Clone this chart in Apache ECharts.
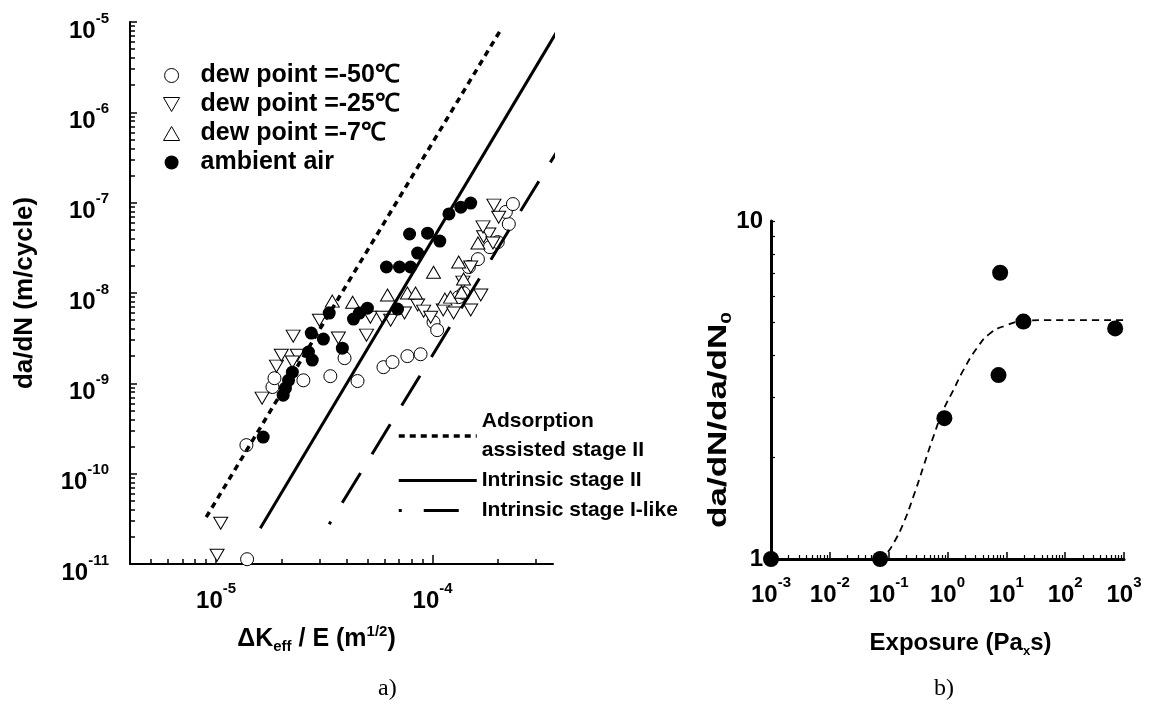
<!DOCTYPE html>
<html>
<head>
<meta charset="utf-8">
<title>da/dN vs dK_eff/E and exposure</title>
<script src="https://cdn.jsdelivr.net/npm/echarts@6/dist/echarts.min.js"></script>
<style>
html,body{margin:0;padding:0;background:#fff;}
#main{width:1152px;height:708px;}
</style>
</head>
<body>
<div id="main"></div>
<script>
/* chart a) : da/dN vs dK_eff/E, [dK/E (m^1/2), da/dN (m/cycle)] */
var dewPoint50 = [
  [1.39e-5, 1.13e-11], [1.38e-5, 2.07e-10], [1.82e-5, 9.1e-10], [1.86e-5, 1.14e-9],
  [2.53e-5, 1.08e-9], [3.37e-5, 1.2e-9], [4.50e-5, 1.06e-9], [3.92e-5, 1.9e-9],
  [5.93e-5, 1.51e-9], [6.53e-5, 1.72e-9], [7.65e-5, 2.0e-9], [8.80e-5, 2.1e-9],
  [1.01e-4, 4.76e-9], [1.05e-4, 3.88e-9], [1.32e-4, 9.0e-9], [1.39e-4, 9.98e-9],
  [1.47e-4, 1.94e-8], [1.62e-4, 2.37e-8], [1.84e-4, 3.22e-8], [2.00e-4, 3.66e-8],
  [2.25e-4, 5.8e-8], [2.18e-4, 7.9e-8], [2.35e-4, 9.65e-8]
];
var dewPoint25 = [
  [1.01e-5, 1.25e-11], [1.05e-5, 2.83e-11], [1.63e-5, 6.86e-10], [1.90e-5, 1.55e-9],
  [2.00e-5, 2.05e-9], [2.37e-5, 2.05e-9], [2.25e-5, 1.72e-9], [2.27e-5, 3.33e-9],
  [3.00e-5, 5.0e-9], [3.67e-5, 3.17e-9], [4.95e-5, 3.42e-9], [5.16e-5, 5.4e-9],
  [5.87e-5, 5.4e-9], [6.40e-5, 5.0e-9], [7.42e-5, 6.0e-9], [8.53e-5, 7.35e-9],
  [9.09e-5, 6.3e-9], [9.80e-5, 5.4e-9], [1.12e-4, 6.47e-9], [1.25e-4, 6.0e-9],
  [1.50e-4, 6.47e-9], [1.67e-4, 9.5e-9], [1.38e-4, 1.32e-8], [1.50e-4, 1.94e-8],
  [1.72e-4, 4.2e-8], [1.82e-4, 4.5e-8], [1.71e-4, 5.4e-8], [1.90e-4, 3.57e-8],
  [2.02e-4, 6.9e-8], [1.92e-4, 9.4e-8]
];
var dewPoint7 = [
  [3.44e-5, 8.13e-9], [4.27e-5, 7.9e-9], [6.19e-5, 9.5e-9], [7.65e-5, 9.98e-9],
  [8.34e-5, 9.98e-9], [1.01e-4, 1.70e-8], [1.14e-4, 8.55e-9], [1.21e-4, 9.0e-9],
  [1.32e-4, 2.2e-8], [1.39e-4, 1.43e-8], [1.36e-4, 1.02e-8], [1.62e-4, 3.57e-8]
];
var ambientAir = [
  [1.50e-4, 9.9e-8], [1.35e-4, 8.9e-8], [1.19e-4, 7.5e-8],
  [7.83e-5, 4.5e-8], [9.48e-5, 4.6e-8], [1.08e-4, 3.76e-8], [8.53e-5, 2.77e-8],
  [6.12e-5, 1.94e-8], [7.03e-5, 1.94e-8], [7.91e-5, 1.94e-8],
  [6.89e-5, 6.64e-9], [5.00e-5, 6.8e-9], [4.59e-5, 6.0e-9], [4.31e-5, 5.14e-9], [3.33e-5, 6.0e-9],
  [2.75e-5, 3.6e-9], [3.13e-5, 3.09e-9], [3.83e-5, 2.45e-9], [2.67e-5, 2.22e-9], [2.78e-5, 1.81e-9],
  [2.25e-5, 1.33e-9], [2.16e-5, 1.08e-9], [2.09e-5, 8.85e-10], [2.04e-5, 7.4e-10], [1.65e-5, 2.54e-10]
];
// straight lines, end points only
var adsorptionStage2 = [[9.0e-6, 3.3e-11], [2.09e-4, 8.6e-6]];
var intrinsicStage2 = [[1.6e-5, 2.49e-11], [3.79e-4, 8.15e-6]];
var intrinsicStage1 = [[3.33e-5, 2.76e-11], [4.18e-4, 5.6e-7]];

/* chart b) : ratio vs exposure (Pa x s) */
var exposurePoints = [
  [1e-3, 1], [0.0715, 1], [0.885, 2.61], [7.85, 7.03], [7.36, 3.5], [19.5, 5.04], [708, 4.81]
];
var exposureFit = [
  [1e-3, 1], [0.0715, 1], [0.093, 1.04], [0.12, 1.11], [0.178, 1.275], [0.263, 1.53],
  [0.389, 1.875], [0.575, 2.3], [0.851, 2.76], [1.26, 3.16], [1.86, 3.62], [3.15, 4.2],
  [5.3, 4.65], [10.2, 4.92], [19.5, 5.06], [48.9, 5.09], [303, 5.09], [1766, 5.09]
];

// tick values
var dkDecades = [1e-5, 1e-4];
var rateDecades = [1e-11, 1e-10, 1e-9, 1e-8, 1e-7, 1e-6, 1e-5];
var exposureDecades = [1e-3, 1e-2, 1e-1, 1, 10, 100, 1000];
var ratioLabels = [1, 10];

var FONT = '"Liberation Sans", Arial, Helvetica, sans-serif';
var SERIF = '"Liberation Serif", "Times New Roman", serif';

// triangles as paths so the legend keeps their shape
var TRI_UP = 'path://M5,0L10,8.66L0,8.66Z';
var TRI_DOWN = 'path://M0,0L10,0L5,8.66Z';

// 2..9 inside each decade, kept between min and max
function minorTicks(decades, min, max) {
    var out = [];
    decades.forEach(function (d) {
        for (var k = 2; k <= 9; k++) {
            var v = parseFloat((k * d).toPrecision(3));
            if (v > min && v < max) out.push(v);
        }
    });
    return out;
}

// 10^n label
function powLabel(v) {
    var e = Math.round(Math.log(v) / Math.LN10);
    return '{b|10}{s|' + e + '}';
}
var powRich = {
    b: {fontSize: 24, fontWeight: 'bold', fontFamily: FONT, color: '#000', lineHeight: 32, verticalAlign: 'bottom'},
    s: {fontSize: 15, fontWeight: 'bold', fontFamily: FONT, color: '#000', verticalAlign: 'top'}
};
var bold = function (size) {
    return {fontSize: size, fontWeight: 'bold', fontFamily: FONT, color: '#000'};
};

var chart = echarts.init(document.getElementById('main'));

var option = {
    animation: false,
    backgroundColor: '#fff',
    textStyle: {fontFamily: FONT, color: '#000'},
    grid: [
        {left: 130, top: 22, width: 423, height: 542, outerBoundsMode: 'none'},
        {left: 771, top: 221, width: 353, height: 338, outerBoundsMode: 'none'}
    ],
    legend: [
        {
            data: ['dew point =-50℃', 'dew point =-25℃', 'dew point =-7℃', 'ambient air'],
            orient: 'vertical', left: 163, top: 61, padding: 0,
            itemWidth: 48, itemHeight: 14, itemGap: 0,
            symbolKeepAspect: true,
            selectedMode: false,
            itemStyle: {borderWidth: 1},
            textStyle: {fontSize: 25, fontWeight: 'bold', fontFamily: FONT, color: '#000', lineHeight: 29}
        },
        {
            data: ['Adsorption\nassisted stage II', 'Intrinsic stage II', 'Intrinsic stage I-like'],
            orient: 'vertical', left: 397, top: 407, padding: 0,
            itemWidth: 78, itemHeight: 14, itemGap: 1,
            selectedMode: false,
            itemStyle: {opacity: 0, borderWidth: 0},
            lineStyle: {width: 'inherit'},
            textStyle: {fontSize: 21, fontWeight: 'bold', fontFamily: FONT, color: '#000', lineHeight: 29}
        }
    ],
    xAxis: [
        {
            gridIndex: 0, type: 'log', logBase: 10, min: 4e-6, max: 3.6e-4, position: 'bottom',
            name: '{n|ΔK}{sub|eff}{n| / E (m}{sup|1/2}{n|)}',
            nameLocation: 'middle', nameGap: 60,
            nameTextStyle: {
                padding: [0, 50, 0, 0],
                rich: {
                    n: {fontSize: 25, fontWeight: 'bold', fontFamily: FONT, color: '#000', lineHeight: 30},
                    sub: {fontSize: 15, fontWeight: 'bold', fontFamily: FONT, color: '#000', verticalAlign: 'bottom'},
                    sup: {fontSize: 15, fontWeight: 'bold', fontFamily: FONT, color: '#000', verticalAlign: 'top'}
                }
            },
            axisLine: {show: true, lineStyle: {color: '#000', width: 2}},
            axisTick: {show: true, inside: true, length: 9, customValues: dkDecades, lineStyle: {color: '#000', width: 1.5}},
            axisLabel: {customValues: dkDecades, formatter: powLabel, margin: 17, rich: powRich},
            splitLine: {show: false}
        },
        {
            // minor ticks only
            gridIndex: 0, type: 'log', logBase: 10, min: 4e-6, max: 3.6e-4, position: 'bottom',
            axisLine: {show: false},
            axisTick: {show: true, inside: true, length: 5, customValues: minorTicks([1e-6, 1e-5, 1e-4], 4e-6, 3.6e-4), lineStyle: {color: '#000', width: 1.5}},
            axisLabel: {show: false},
            splitLine: {show: false}
        },
        {
            gridIndex: 1, type: 'log', logBase: 10, min: 1e-3, max: 1e3, position: 'bottom',
            name: '{n|Exposure (Pa}{x|x}{n|s)}',
            nameLocation: 'middle', nameGap: 69,
            nameTextStyle: {
                padding: [0, 0, 0, 26],
                rich: {
                    n: {fontSize: 24, fontWeight: 'bold', fontFamily: FONT, color: '#000', lineHeight: 30},
                    x: {fontSize: 13, fontWeight: 'bold', fontFamily: FONT, color: '#000', verticalAlign: 'bottom'}
                }
            },
            axisLine: {show: true, lineStyle: {color: '#000', width: 3}},
            axisTick: {show: true, inside: true, length: 7, customValues: exposureDecades, lineStyle: {color: '#000', width: 1.5}},
            axisLabel: {customValues: exposureDecades, formatter: powLabel, margin: 16, rich: powRich},
            splitLine: {show: false}
        },
        {
            gridIndex: 1, type: 'log', logBase: 10, min: 1e-3, max: 1e3, position: 'bottom',
            axisLine: {show: false},
            axisTick: {show: true, inside: true, length: 4, customValues: minorTicks([1e-3, 1e-2, 1e-1, 1, 10, 100], 1e-3, 1e3), lineStyle: {color: '#000', width: 1.2}},
            axisLabel: {show: false},
            splitLine: {show: false}
        }
    ],
    yAxis: [
        {
            gridIndex: 0, type: 'log', logBase: 10, min: 1e-11, max: 1e-5, position: 'left',
            name: 'da/dN (m/cycle)', nameLocation: 'middle', nameGap: 92,
            nameTextStyle: bold(26),
            axisLine: {show: true, lineStyle: {color: '#000', width: 2}},
            axisTick: {show: true, inside: true, length: 7, customValues: rateDecades, lineStyle: {color: '#000', width: 1.5}},
            axisLabel: {customValues: rateDecades, formatter: powLabel, margin: 21, padding: [10, 0, 0, 0], rich: powRich},
            splitLine: {show: false}
        },
        {
            gridIndex: 0, type: 'log', logBase: 10, min: 1e-11, max: 1e-5, position: 'left',
            axisLine: {show: false},
            axisTick: {show: true, inside: true, length: 5, customValues: minorTicks([1e-11, 1e-10, 1e-9, 1e-8, 1e-7, 1e-6], 1e-11, 1e-5), lineStyle: {color: '#000', width: 1.5}},
            axisLabel: {show: false},
            splitLine: {show: false}
        },
        {
            gridIndex: 1, type: 'log', logBase: 10, min: 1, max: 10, position: 'left',
            axisLine: {show: true, lineStyle: {color: '#000', width: 3}},
            axisTick: {show: true, inside: true, length: 4, customValues: minorTicks([1], 1, 10).concat([10]), lineStyle: {color: '#000', width: 1.2}},
            axisLabel: {customValues: ratioLabels, margin: 8, fontSize: 24, fontWeight: 'bold', fontFamily: FONT, color: '#000'},
            splitLine: {show: false}
        }
    ],
    series: [
        {
            name: 'Adsorption\nassisted stage II', type: 'line', xAxisIndex: 0, yAxisIndex: 0,
            data: adsorptionStage2, symbol: 'none', clip: false, silent: true,
            lineStyle: {color: '#000', width: 3.5, type: [6, 5]}
        },
        {
            name: 'Intrinsic stage II', type: 'line', xAxisIndex: 0, yAxisIndex: 0,
            data: intrinsicStage2, symbol: 'none', clip: false, silent: true,
            lineStyle: {color: '#000', width: 3, type: 'solid'}
        },
        {
            name: 'Intrinsic stage I-like', type: 'line', xAxisIndex: 0, yAxisIndex: 0,
            data: intrinsicStage1, symbol: 'none', clip: false, silent: true,
            lineStyle: {color: '#000', width: 3, type: [35, 22], dashOffset: 32}
        },
        {
            name: 'dew point =-50℃', type: 'scatter', xAxisIndex: 0, yAxisIndex: 0,
            data: dewPoint50, symbol: 'circle', symbolSize: 13,
            itemStyle: {color: '#fff', borderColor: '#000', borderWidth: 1, opacity: 1}
        },
        {
            name: 'dew point =-25℃', type: 'scatter', xAxisIndex: 0, yAxisIndex: 0,
            data: dewPoint25, symbol: TRI_DOWN, symbolSize: [14, 12],
            itemStyle: {color: '#fff', borderColor: '#000', borderWidth: 1, opacity: 1}
        },
        {
            name: 'dew point =-7℃', type: 'scatter', xAxisIndex: 0, yAxisIndex: 0,
            data: dewPoint7, symbol: TRI_UP, symbolSize: [14, 12],
            itemStyle: {color: '#fff', borderColor: '#000', borderWidth: 1, opacity: 1}
        },
        {
            name: 'ambient air', type: 'scatter', xAxisIndex: 0, yAxisIndex: 0,
            data: ambientAir, symbol: 'circle', symbolSize: 13,
            itemStyle: {color: '#000', opacity: 1}
        },
        {
            name: 'fit', type: 'line', xAxisIndex: 2, yAxisIndex: 2,
            data: exposureFit, symbol: 'none', smooth: 0.5, clip: false, silent: true,
            lineStyle: {color: '#000', width: 1.8, type: [7, 5]}
        },
        {
            name: 'exposure', type: 'scatter', xAxisIndex: 2, yAxisIndex: 2,
            data: exposurePoints, symbol: 'circle', symbolSize: 16, clip: false,
            itemStyle: {color: '#000', opacity: 1}
        }
    ],
    graphic: [
        {type: 'text', left: 378, top: 677, style: {text: 'a)', font: '24px ' + SERIF, fill: '#000'}},
        {type: 'text', left: 934, top: 677, style: {text: 'b)', font: '24px ' + SERIF, fill: '#000'}},
        {
            // y title of b), drawn long and narrow as in the original
            type: 'text', x: 719, y: 420, rotation: Math.PI / 2, scaleX: 1.4,
            style: {
                text: '{t|da/dN/da/dN}{u|0}', align: 'center', verticalAlign: 'middle',
                rich: {
                    t: {fontSize: 25, fontWeight: 'bold', fontFamily: FONT, fill: '#000', lineHeight: 30},
                    u: {fontSize: 15, fontWeight: 'bold', fontFamily: FONT, fill: '#000', verticalAlign: 'bottom'}
                }
            }
        }
    ]
};

chart.setOption(option);
</script>
</body>
</html>
